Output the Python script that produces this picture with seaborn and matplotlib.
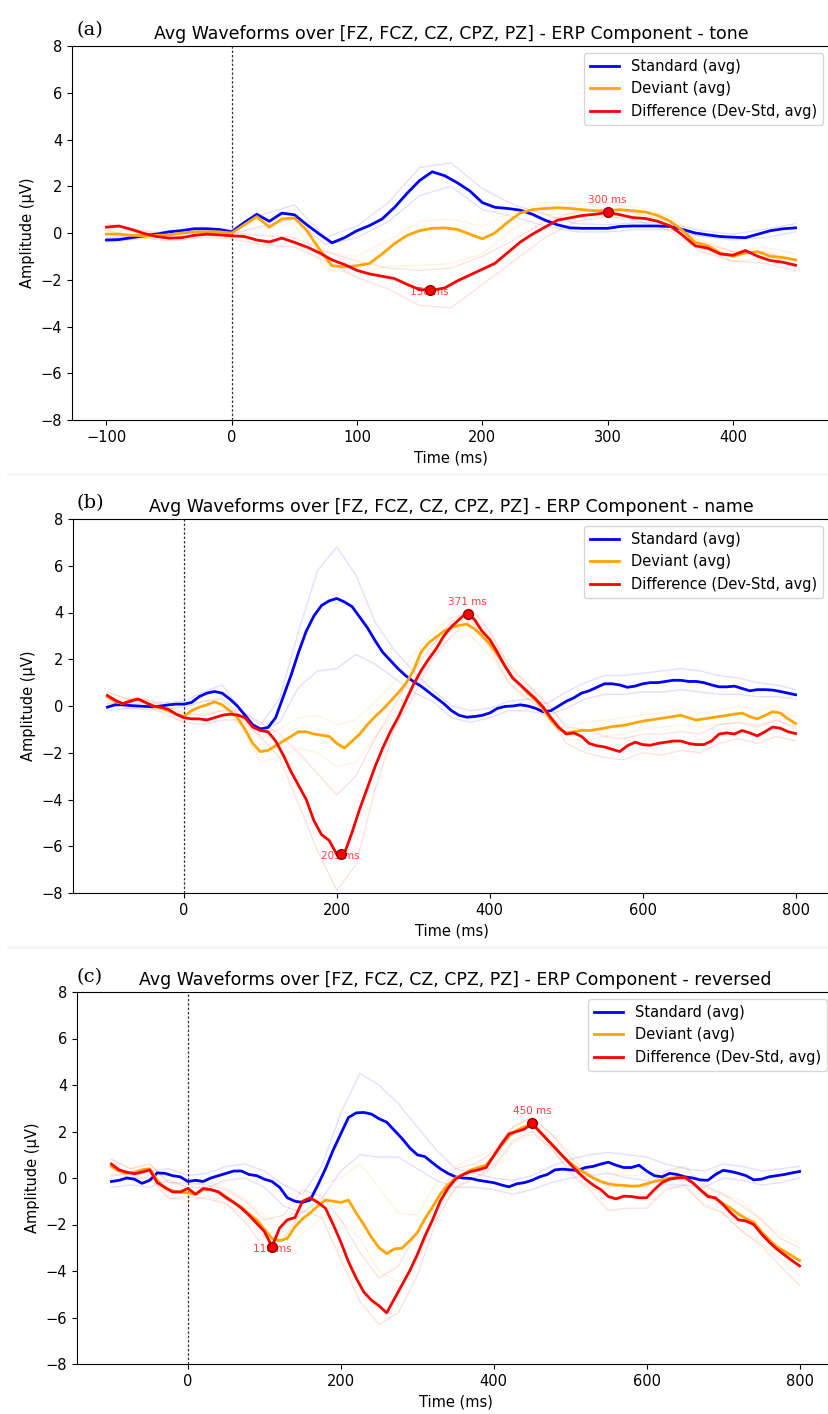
import numpy as np
import matplotlib
matplotlib.use("Agg")
import matplotlib.pyplot as plt
from matplotlib.lines import Line2D
import seaborn as sns

# ---------------- data ----------------
# panel (a): tone, -100..450 ms in 10 ms steps
t_a = np.arange(-100, 451, 10)
std_a = [-0.30, -0.28, -0.20, -0.12, -0.05, 0.05, 0.10, 0.18, 0.18, 0.15,
         0.05, 0.45, 0.80, 0.50, 0.85, 0.78, 0.35, -0.05, -0.42, -0.20,
         0.10, 0.32, 0.60, 1.10, 1.70, 2.25, 2.62, 2.45, 2.15, 1.80,
         1.30, 1.10, 1.05, 0.98, 0.80, 0.55, 0.35, 0.22, 0.20, 0.20,
         0.20, 0.28, 0.30, 0.30, 0.30, 0.28, 0.15, 0.00, -0.08, -0.15,
         -0.18, -0.20, -0.05, 0.10, 0.18, 0.22]
dev_a = [-0.05, -0.05, -0.10, -0.12, -0.10, -0.08, 0.00, 0.05, 0.05, 0.05,
         0.00, 0.35, 0.70, 0.25, 0.60, 0.65, 0.10, -0.70, -1.40, -1.45,
         -1.40, -1.30, -0.90, -0.45, -0.10, 0.10, 0.20, 0.22, 0.15, -0.05,
         -0.25, 0.00, 0.45, 0.85, 1.00, 1.05, 1.08, 1.05, 1.00, 0.95,
         0.95, 1.00, 0.95, 0.90, 0.75, 0.50, 0.10, -0.40, -0.55, -0.85,
         -1.00, -0.85, -0.80, -1.00, -1.05, -1.15]
diff_a = [0.25, 0.30, 0.15, -0.02, -0.15, -0.22, -0.20, -0.10, -0.05, -0.08,
          -0.12, -0.15, -0.30, -0.38, -0.22, -0.40, -0.60, -0.85, -1.15, -1.35,
          -1.60, -1.75, -1.85, -1.95, -2.20, -2.42, -2.45, -2.35, -2.05, -1.80,
          -1.55, -1.30, -0.85, -0.40, -0.05, 0.25, 0.55, 0.65, 0.75, 0.80,
          0.88, 0.78, 0.66, 0.62, 0.50, 0.30, -0.10, -0.55, -0.65, -0.90,
          -0.95, -0.75, -1.00, -1.18, -1.25, -1.38]
# single-channel traces (faint), 25 ms steps
tc_a = np.arange(-100, 451, 25)
std_a_hi = [-0.2, -0.1, 0.1, 0.25, 0.15, 0.8, 1.2, -0.2, 0.3, 1.3, 2.8, 3.0,
            1.9, 1.2, 0.8, 0.4, 0.35, 0.45, 0.4, 0.1, -0.05, 0.15, 0.4]
std_a_lo = [-0.4, -0.25, -0.05, 0.05, -0.05, 0.3, 0.6, -0.5, -0.2, 0.5, 1.6, 2.0,
            1.0, 0.7, 0.3, 0.05, 0.05, 0.15, 0.15, -0.15, -0.3, -0.2, 0.05]
dev_a_hi = [0.15, 0.05, 0.05, 0.2, 0.1, 0.6, 1.0, -0.8, -1.0, -0.3, 0.5, 0.6,
            0.3, 0.9, 1.3, 1.3, 1.2, 1.1, 0.7, -0.3, -0.8, -0.6, -0.9]
dev_a_lo = [-0.25, -0.25, -0.2, -0.1, -0.15, 0.2, 0.4, -1.5, -1.8, -1.4, -1.4, -1.3,
            -0.9, 0.2, 0.8, 0.8, 0.7, 0.7, 0.3, -0.7, -1.2, -1.1, -1.4]
diff_a_hi = [0.4, 0.15, -0.1, 0.05, 0.0, -0.1, -0.2, -0.8, -1.2, -1.5, -1.6, -1.5,
             -1.0, -0.3, 0.5, 0.9, 1.05, 0.8, 0.5, -0.4, -0.8, -0.8, -1.2]
diff_a_lo = [0.1, -0.15, -0.35, -0.2, -0.25, -0.5, -0.6, -1.2, -1.9, -2.4, -3.1, -3.2,
             -2.2, -1.2, -0.2, 0.5, 0.7, 0.5, 0.1, -0.8, -1.2, -1.3, -1.6]
peaks_a = [158, 300]

# panel (b): name, -100..800 ms in 10 ms steps
t_b = np.arange(-100, 801, 10)
std_b = [-0.05, 0.05, 0.05, 0.02, 0.00, -0.02, -0.03, 0.00, 0.05, 0.08,
         0.08, 0.15, 0.40, 0.55, 0.62, 0.55, 0.30, 0.00, -0.40, -0.80,
         -0.98, -0.92, -0.50, 0.40, 1.30, 2.30, 3.20, 3.85, 4.30, 4.50,
         4.60, 4.45, 4.25, 3.80, 3.35, 2.80, 2.30, 1.95, 1.60, 1.30,
         1.05, 0.85, 0.60, 0.35, 0.10, -0.20, -0.40, -0.48, -0.45, -0.40,
         -0.30, -0.10, -0.02, 0.00, 0.05, 0.00, -0.10, -0.25, -0.20, 0.00,
         0.20, 0.35, 0.55, 0.65, 0.80, 0.95, 0.95, 0.90, 0.80, 0.85,
         0.95, 1.00, 1.00, 1.05, 1.10, 1.10, 1.05, 1.05, 1.00, 0.90,
         0.82, 0.82, 0.85, 0.75, 0.65, 0.70, 0.70, 0.68, 0.62, 0.55,
         0.48]
dev_b = [0.40, 0.20, 0.10, 0.25, 0.30, 0.15, 0.00, -0.10, -0.20, -0.35,
         -0.45, -0.20, -0.05, 0.05, 0.18, 0.05, -0.20, -0.50, -1.00, -1.60,
         -1.95, -1.90, -1.70, -1.50, -1.30, -1.10, -1.10, -1.20, -1.25, -1.30,
         -1.60, -1.80, -1.50, -1.20, -0.80, -0.45, -0.15, 0.20, 0.55, 0.95,
         1.50, 2.30, 2.70, 2.95, 3.20, 3.35, 3.45, 3.50, 3.30, 3.00,
         2.65, 2.20, 1.70, 1.20, 0.90, 0.55, 0.25, -0.15, -0.60, -0.95,
         -1.15, -1.10, -1.05, -1.05, -1.00, -0.95, -0.88, -0.85, -0.80, -0.72,
         -0.65, -0.60, -0.55, -0.50, -0.45, -0.40, -0.50, -0.60, -0.55, -0.50,
         -0.45, -0.40, -0.35, -0.30, -0.45, -0.55, -0.40, -0.25, -0.30, -0.55,
         -0.75]
diff_b = [0.45, 0.25, 0.10, 0.20, 0.30, 0.15, 0.00, -0.05, -0.15, -0.35,
          -0.50, -0.55, -0.55, -0.60, -0.50, -0.40, -0.35, -0.38, -0.50, -0.90,
          -1.05, -1.10, -1.50, -2.10, -2.80, -3.40, -4.00, -4.90, -5.50, -5.75,
          -6.35, -6.30, -5.40, -4.40, -3.50, -2.60, -1.80, -1.10, -0.50, 0.20,
          0.90, 1.50, 2.00, 2.45, 3.00, 3.40, 3.70, 3.98, 3.70, 3.20,
          2.85, 2.30, 1.70, 1.20, 0.90, 0.60, 0.30, -0.05, -0.50, -0.90,
          -1.20, -1.15, -1.30, -1.60, -1.70, -1.75, -1.85, -1.95, -1.70, -1.55,
          -1.65, -1.68, -1.60, -1.55, -1.50, -1.50, -1.60, -1.65, -1.65, -1.50,
          -1.20, -1.15, -1.20, -1.05, -1.15, -1.28, -1.10, -0.90, -0.95, -1.10,
          -1.18]
tc_b = np.arange(-100, 801, 25)
std_b_hi = [0.1, 0.15, 0.1, 0.15, 0.2, 0.6, 0.9, -0.2, -0.8, 0.3, 3.2, 5.8, 6.8,
            5.6, 3.6, 2.4, 1.5, 0.7, 0.0, -0.2, -0.1, 0.2, 0.3, 0.1, 0.6, 1.0,
            1.3, 1.3, 1.4, 1.5, 1.6, 1.5, 1.3, 1.2, 1.0, 0.9, 0.7]
std_b_lo = [-0.2, -0.1, -0.15, -0.1, -0.05, 0.2, 0.3, -0.5, -1.1, -0.7, 0.8, 1.5, 1.6,
            2.2, 1.8, 1.2, 0.6, 0.2, -0.5, -0.7, -0.5, -0.2, -0.2, -0.4, -0.1, 0.3,
            0.5, 0.5, 0.6, 0.6, 0.7, 0.6, 0.5, 0.5, 0.4, 0.4, 0.3]
dev_b_hi = [0.6, 0.3, 0.3, 0.1, -0.2, 0.2, 0.4, -0.4, -1.4, -1.0, -0.5, -0.4, -0.8,
            -0.6, 0.2, 1.0, 2.2, 3.1, 3.8, 3.9, 3.1, 1.8, 0.9, 0.0, -0.8, -0.7,
            -0.6, -0.5, -0.4, -0.3, -0.1, -0.3, -0.2, 0.0, -0.2, 0.0, -0.5]
dev_b_lo = [0.2, 0.0, 0.0, -0.4, -0.7, -0.3, -0.2, -0.8, -2.4, -2.2, -1.8, -2.0, -2.6,
            -2.4, -1.3, -0.3, 0.9, 2.4, 2.9, 3.0, 2.2, 1.0, 0.2, -0.5, -1.4, -1.5,
            -1.3, -1.2, -1.0, -0.9, -0.8, -0.9, -0.8, -0.7, -0.8, -0.6, -1.0]
diff_b_hi = [0.6, 0.3, 0.3, 0.0, -0.3, -0.4, -0.2, -0.2, -0.7, -1.2, -2.0, -2.9, -3.8,
             -3.0, -1.4, 0.0, 1.5, 2.6, 3.6, 4.2, 3.2, 1.7, 0.9, 0.1, -0.9, -1.0,
             -1.3, -1.4, -1.2, -1.2, -1.1, -1.2, -0.8, -0.7, -0.9, -0.6, -0.9]
diff_b_lo = [0.3, -0.1, 0.0, -0.3, -0.7, -0.8, -0.6, -0.6, -1.3, -2.2, -4.2, -6.2, -7.9,
             -6.8, -3.6, -1.0, 0.4, 2.0, 3.0, 3.7, 2.5, 1.0, 0.3, -0.3, -1.6, -2.0,
             -2.2, -2.3, -2.0, -2.1, -1.9, -2.0, -1.6, -1.4, -1.6, -1.3, -1.5]
peaks_b = [205, 371]

# panel (c): reversed, -100..800 ms in 10 ms steps
t_c = np.arange(-100, 801, 10)
std_c = [-0.15, -0.10, 0.00, -0.05, -0.23, -0.10, 0.22, 0.20, 0.10, 0.05,
         -0.15, -0.10, -0.15, 0.00, 0.10, 0.20, 0.30, 0.30, 0.15, 0.10,
         -0.05, -0.15, -0.40, -0.85, -1.00, -1.05, -0.95, -0.30, 0.40, 1.20,
         1.90, 2.60, 2.80, 2.82, 2.75, 2.55, 2.40, 2.05, 1.70, 1.30,
         1.00, 0.92, 0.65, 0.40, 0.20, 0.05, 0.00, -0.02, -0.10, -0.15,
         -0.20, -0.30, -0.38, -0.25, -0.20, -0.10, 0.05, 0.15, 0.35, 0.38,
         0.35, 0.33, 0.45, 0.50, 0.60, 0.68, 0.55, 0.45, 0.45, 0.55,
         0.30, 0.10, 0.05, 0.20, 0.15, 0.05, 0.00, -0.08, -0.10, 0.15,
         0.33, 0.28, 0.20, 0.10, -0.08, -0.05, 0.05, 0.10, 0.15, 0.22,
         0.28]
dev_c = [0.50, 0.30, 0.20, 0.25, 0.35, 0.40, -0.10, -0.45, -0.55, -0.60,
         -0.65, -0.70, -0.50, -0.50, -0.60, -0.80, -1.05, -1.25, -1.55, -1.80,
         -2.20, -2.60, -2.70, -2.60, -2.10, -1.75, -1.50, -1.20, -0.95, -1.00,
         -1.05, -0.95, -1.50, -2.00, -2.55, -3.00, -3.25, -3.05, -3.02, -2.70,
         -2.35, -1.75, -1.25, -0.70, -0.30, 0.00, 0.15, 0.35, 0.45, 0.55,
         0.95, 1.40, 1.80, 2.05, 2.20, 2.30, 2.00, 1.65, 1.30, 0.95,
         0.65, 0.40, 0.20, 0.00, -0.15, -0.25, -0.30, -0.32, -0.35, -0.34,
         -0.25, -0.15, -0.08, 0.00, 0.03, 0.00, -0.20, -0.50, -0.75, -0.90,
         -1.10, -1.30, -1.55, -1.75, -1.90, -2.30, -2.65, -2.95, -3.15, -3.35,
         -3.55]
diff_c = [0.60, 0.35, 0.25, 0.18, 0.25, 0.35, -0.20, -0.40, -0.60, -0.60,
          -0.45, -0.70, -0.45, -0.50, -0.60, -0.85, -1.05, -1.30, -1.60, -1.95,
          -2.30, -2.95, -2.15, -1.80, -1.70, -1.00, -0.85, -1.05, -1.30, -2.00,
          -2.75, -3.60, -4.30, -4.90, -5.25, -5.50, -5.80, -5.20, -4.60, -4.00,
          -3.30, -2.50, -1.80, -1.00, -0.45, -0.05, 0.15, 0.28, 0.35, 0.45,
          0.95, 1.45, 1.90, 2.00, 2.10, 2.35, 2.00, 1.65, 1.30, 0.95,
          0.60, 0.25, -0.05, -0.30, -0.50, -0.80, -0.90, -0.78, -0.80, -0.85,
          -0.85, -0.50, -0.20, -0.05, 0.00, 0.03, -0.20, -0.50, -0.80, -0.85,
          -1.15, -1.50, -1.80, -1.85, -2.00, -2.40, -2.75, -3.05, -3.30, -3.55,
          -3.78]
tc_c = np.arange(-100, 801, 25)
std_c_hi = [0.1, 0.2, 0.3, 0.4, 0.1, 0.2, 0.5, 0.6, 0.3, -0.3, -0.7, 0.5, 2.8,
            4.5, 4.0, 3.2, 2.2, 1.2, 0.4, 0.2, 0.0, -0.1, 0.1, 0.5, 0.8, 1.0,
            1.1, 1.0, 0.9, 0.6, 0.4, 0.3, 0.6, 0.5, 0.3, 0.4, 0.5]
std_c_lo = [-0.4, -0.3, -0.4, -0.1, -0.4, -0.4, -0.1, 0.0, -0.4, -1.2, -1.5, -0.9, 0.3,
            1.0, 0.9, 0.9, 0.4, -0.1, -0.4, -0.4, -0.5, -0.7, -0.5, -0.2, 0.0, 0.1,
            0.2, 0.0, -0.1, -0.3, -0.3, -0.4, 0.0, -0.1, -0.3, -0.2, 0.0]
dev_c_hi = [0.8, 0.4, 0.6, -0.2, -0.3, -0.2, -0.4, -0.9, -1.6, -2.0, -1.0, -0.3, 0.0,
            0.6, -0.4, -1.5, -1.6, -0.2, 0.5, 0.9, 1.2, 2.2, 2.6, 1.9, 1.1, 0.5,
            0.2, 0.1, 0.1, 0.3, 0.3, -0.4, -0.7, -1.0, -1.8, -2.4, -2.8]
dev_c_lo = [0.2, 0.0, 0.1, -0.8, -1.0, -0.8, -1.1, -1.7, -2.6, -3.2, -2.4, -1.7, -1.8,
            -2.6, -4.0, -4.5, -3.6, -1.4, -0.5, 0.0, 0.4, 1.5, 1.9, 1.3, 0.3, -0.4,
            -0.8, -0.8, -0.7, -0.4, -0.4, -1.1, -1.5, -2.3, -2.8, -3.5, -4.2]
diff_c_hi = [0.8, 0.4, 0.6, -0.2, -0.2, -0.3, -0.5, -1.0, -1.8, -1.6, -0.5, -0.8, -1.8,
             -3.2, -4.3, -3.8, -2.3, -0.9, 0.4, 0.6, 1.1, 2.2, 2.6, 1.9, 0.9, 0.2,
             -0.4, -0.3, -0.4, 0.3, 0.5, -0.3, -0.7, -1.2, -1.8, -2.6, -3.0]
diff_c_lo = [0.4, 0.0, 0.0, -0.9, -0.8, -0.9, -1.1, -1.9, -3.0, -2.6, -1.4, -1.7, -3.5,
             -5.3, -6.3, -5.8, -4.2, -1.8, -0.4, 0.0, 0.5, 1.6, 2.0, 1.3, 0.2, -0.5,
             -1.4, -1.3, -1.3, -0.5, -0.3, -1.2, -1.5, -2.3, -2.9, -3.8, -4.6]
peaks_c = [110, 450]

labels = ["Standard (avg)", "Deviant (avg)", "Difference (Dev-Std, avg)"]
colors = ["blue", "orange", "red"]
title_base = "Avg Waveforms over [FZ, FCZ, CZ, CPZ, PZ] - ERP Component - "

W, H = 829, 1414
FS = 10.5


def draw_panel(ax, t, avgs, tc, chans, peaks, cond):
    # faint single-channel traces
    for col, pair in zip(colors, chans):
        for tr in pair:
            sns.lineplot(x=tc, y=tr, ax=ax, color=col, lw=1, alpha=0.12, legend=False)
    ax.axvline(0, color="black", ls=(0, (2, 1.5)), lw=0.9, alpha=0.8)
    for col, lab, y in zip(colors, labels, avgs):
        sns.lineplot(x=t, y=y, ax=ax, color=col, lw=2, label=lab)
    # peak markers on the difference wave (first = negative, second = positive)
    diff = avgs[2]
    for i, pt in enumerate(peaks):
        pv = np.interp(pt, t, diff)
        ax.plot([pt], [pv], "o", ms=7, mfc="red", mec="darkred", zorder=5)
        if i == 0:
            ax.annotate(f"{pt} ms", (pt, pv), xytext=(0, 2), textcoords="offset points",
                        ha="center", va="top", fontsize=7.5, color="red", alpha=0.75)
        else:
            ax.annotate(f"{pt} ms", (pt, pv), xytext=(0, 5), textcoords="offset points",
                        ha="center", va="bottom", fontsize=7.5, color="red", alpha=0.75)
    ax.set_ylim(-8, 8)
    ax.set_xlabel("Time (ms)", fontsize=FS)
    ax.set_ylabel("Amplitude (µV)", fontsize=FS)
    ax.set_title(title_base + cond, fontsize=12.5, pad=5)
    ax.tick_params(labelsize=FS)
    ax.legend(loc="upper right", fontsize=FS)


fig = plt.figure(figsize=(W / 100, H / 100), dpi=100)


def px_axes(left, top, right, bottom):
    return fig.add_axes([left / W, 1 - bottom / H, (right - left) / W, (bottom - top) / H])


ax_a = px_axes(72, 46, 830, 420)
ax_b = px_axes(73, 519, 830, 893)
ax_c = px_axes(77, 992, 834, 1364)

draw_panel(ax_a, t_a, [std_a, dev_a, diff_a], tc_a,
           [[std_a_hi, std_a_lo], [dev_a_hi, dev_a_lo], [diff_a_hi, diff_a_lo]], peaks_a, "tone")
draw_panel(ax_b, t_b, [std_b, dev_b, diff_b], tc_b,
           [[std_b_hi, std_b_lo], [dev_b_hi, dev_b_lo], [diff_b_hi, diff_b_lo]], peaks_b, "name")
draw_panel(ax_c, t_c, [std_c, dev_c, diff_c], tc_c,
           [[std_c_hi, std_c_lo], [dev_c_hi, dev_c_lo], [diff_c_hi, diff_c_lo]], peaks_c, "reversed")

for tag, ypx in [("(a)", 30), ("(b)", 503), ("(c)", 977)]:
    fig.text(77 / W, 1 - ypx / H, tag, family="DejaVu Serif", fontsize=14, va="center", ha="left")

# very faint seams between the three stacked figures
for ypx in [474, 947]:
    fig.add_artist(Line2D([0.01, 1.0], [1 - ypx / H] * 2, color="#f5f5f5", lw=2,
                          transform=fig.transFigure))

fig.savefig("out.png", dpi=100)
